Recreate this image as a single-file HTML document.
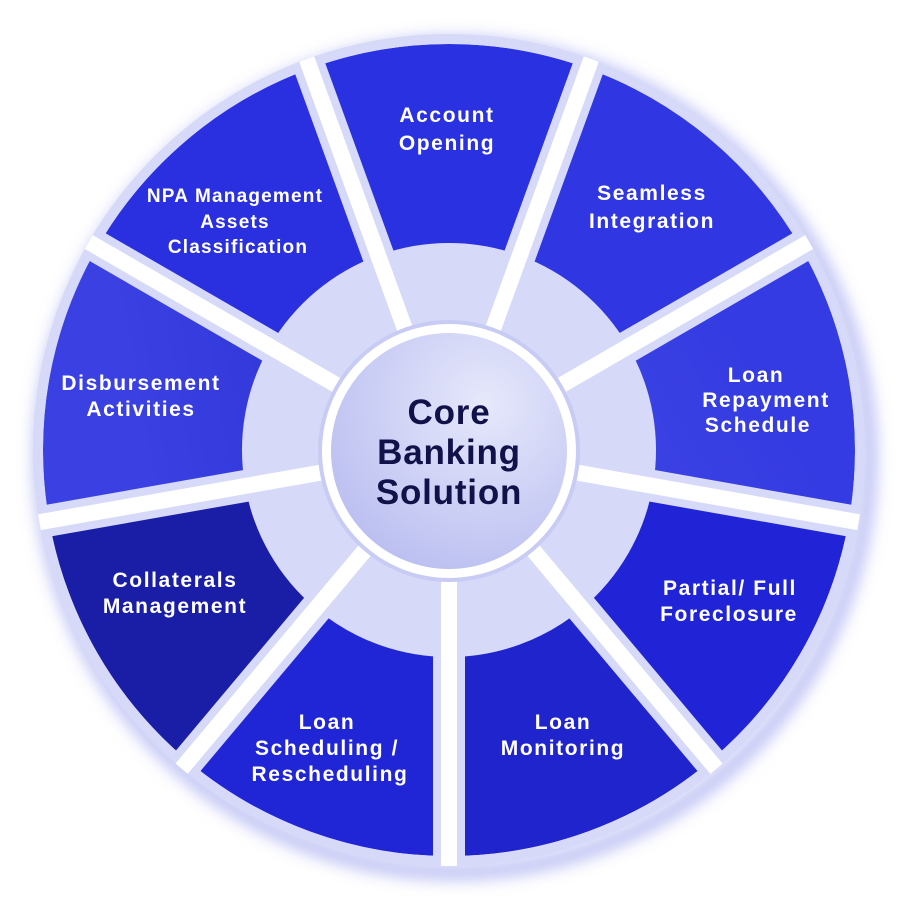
<!DOCTYPE html>
<html><head><meta charset="utf-8"><style>
html,body{margin:0;padding:0;background:#fff;width:899px;height:900px;overflow:hidden}
svg{display:block}
text{font-family:"Liberation Sans",sans-serif;font-weight:bold;fill:#fff;text-anchor:middle}
</style></head><body>
<svg width="899" height="900" viewBox="0 0 899 900">
<defs>
<clipPath id="cl"><circle cx="449" cy="450" r="416"/></clipPath>
<filter id="bl" x="-20%" y="-20%" width="140%" height="140%"><feGaussianBlur stdDeviation="8"/></filter>
<radialGradient id="cg" cx="0.65" cy="0.3" r="0.8"><stop offset="0" stop-color="#e6e8fb"/><stop offset="1" stop-color="#b9bdf0"/></radialGradient>
<linearGradient id="lr" x1="0" y1="0" x2="1" y2="0"><stop offset="0" stop-color="#5258e6"/><stop offset="1" stop-color="#343be2"/></linearGradient>
<linearGradient id="db" x1="0" y1="0" x2="1" y2="0"><stop offset="0" stop-color="#1c20c4"/><stop offset="1" stop-color="#3a40e2"/></linearGradient>
</defs>
<circle cx="455" cy="458" r="414" fill="none" stroke="#b5b9f2" stroke-width="14" filter="url(#bl)"/>
<g clip-path="url(#cl)">
<circle cx="449" cy="450" r="272" fill="none" stroke="#d6d9f7" stroke-width="288"/>
<g fill="none" stroke-width="199" stroke-dasharray="214 1712">
<circle cx="449" cy="450" r="306.5" stroke="#2a31e0" transform="rotate(-110 449 450)"/>
<circle cx="449" cy="450" r="306.5" stroke="#2f36e2" transform="rotate(-70 449 450)"/>
<circle cx="449" cy="450" r="306.5" stroke="url(#lr)" transform="rotate(-30 449 450)"/>
<circle cx="449" cy="450" r="306.5" stroke="#2024d6" transform="rotate(10 449 450)"/>
<circle cx="449" cy="450" r="306.5" stroke="#1f24cc" transform="rotate(50 449 450)"/>
<circle cx="449" cy="450" r="306.5" stroke="#2026d6" transform="rotate(90 449 450)"/>
<circle cx="449" cy="450" r="306.5" stroke="#1a1ea6" transform="rotate(130 449 450)"/>
<circle cx="449" cy="450" r="306.5" stroke="url(#db)" transform="rotate(170 449 450)"/>
<circle cx="449" cy="450" r="306.5" stroke="#2a30e0" transform="rotate(210 449 450)"/>
</g>
<circle cx="449" cy="450" r="411" fill="none" stroke="#d6d9f7" stroke-width="10"/>
<g stroke="#d6d9f7" stroke-width="32">
<line x1="449" y1="450" x2="449" y2="20" transform="rotate(-20 449 450)"/>
<line x1="449" y1="450" x2="449" y2="20" transform="rotate(20 449 450)"/>
<line x1="449" y1="450" x2="449" y2="20" transform="rotate(60 449 450)"/>
<line x1="449" y1="450" x2="449" y2="20" transform="rotate(100 449 450)"/>
<line x1="449" y1="450" x2="449" y2="20" transform="rotate(140 449 450)"/>
<line x1="449" y1="450" x2="449" y2="20" transform="rotate(180 449 450)"/>
<line x1="449" y1="450" x2="449" y2="20" transform="rotate(220 449 450)"/>
<line x1="449" y1="450" x2="449" y2="20" transform="rotate(260 449 450)"/>
<line x1="449" y1="450" x2="449" y2="20" transform="rotate(300 449 450)"/>
</g>
<g stroke="#ffffff" stroke-width="16">
<line x1="449" y1="450" x2="449" y2="20" transform="rotate(-20 449 450)"/>
<line x1="449" y1="450" x2="449" y2="20" transform="rotate(20 449 450)"/>
<line x1="449" y1="450" x2="449" y2="20" transform="rotate(60 449 450)"/>
<line x1="449" y1="450" x2="449" y2="20" transform="rotate(100 449 450)"/>
<line x1="449" y1="450" x2="449" y2="20" transform="rotate(140 449 450)"/>
<line x1="449" y1="450" x2="449" y2="20" transform="rotate(180 449 450)"/>
<line x1="449" y1="450" x2="449" y2="20" transform="rotate(220 449 450)"/>
<line x1="449" y1="450" x2="449" y2="20" transform="rotate(260 449 450)"/>
<line x1="449" y1="450" x2="449" y2="20" transform="rotate(300 449 450)"/>
</g>
</g>
<circle cx="449" cy="451" r="131" fill="#c8cbf4"/>
<circle cx="449" cy="451" r="127" fill="#ffffff"/>
<circle cx="449" cy="451" r="118" fill="url(#cg)"/>
<g font-size="21" letter-spacing="1.6">
<text x="447" y="122">Account</text><text x="447" y="150">Opening</text>
<text x="652" y="200">Seamless</text><text x="652" y="228">Integration</text>
<text x="235" y="202" font-size="19" letter-spacing="1.2">NPA Management</text><text x="235" y="228" font-size="19" letter-spacing="1.2">Assets</text><text x="238" y="253" font-size="19" letter-spacing="1.2">Classification</text>
<text x="141" y="390">Disbursement</text><text x="141" y="416">Activities</text>
<text x="756" y="382">Loan</text><text x="766" y="407">Repayment</text><text x="758" y="432">Schedule</text>
<text x="730" y="595">Partial/ Full</text><text x="729" y="621">Foreclosure</text>
<text x="563" y="729">Loan</text><text x="563" y="755">Monitoring</text>
<text x="327" y="729">Loan</text><text x="327" y="755">Scheduling /</text><text x="330" y="781">Rescheduling</text>
<text x="175" y="587">Collaterals</text><text x="175" y="613">Management</text>
</g>
<g font-size="35" letter-spacing="0.8">
<text x="449" y="424" style="fill:#12124a">Core</text>
<text x="449" y="464" style="fill:#12124a">Banking</text>
<text x="449" y="504" style="fill:#12124a">Solution</text>
</g>
</svg>
</body></html>
